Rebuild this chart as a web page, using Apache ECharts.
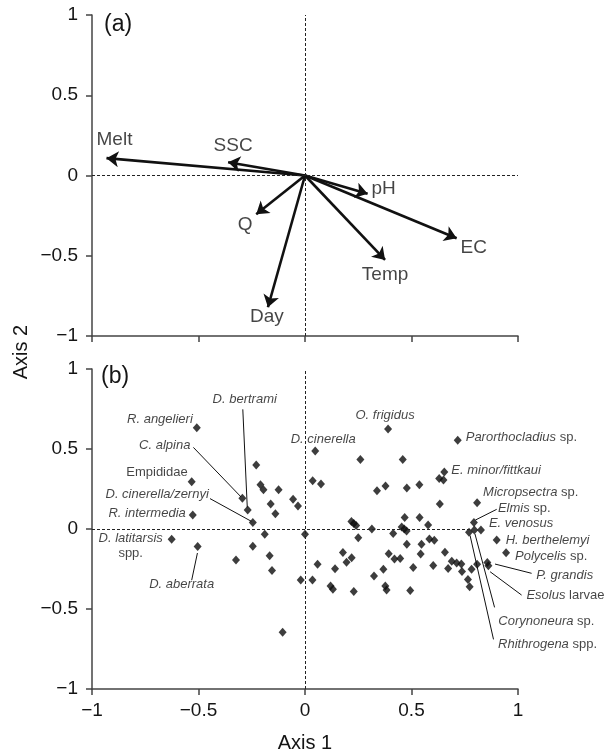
<!DOCTYPE html>
<html>
<head>
<meta charset="utf-8">
<script src="https://cdn.jsdelivr.net/npm/echarts@6/dist/echarts.min.js"></script>
<style>
  html, body { margin: 0; padding: 0; background: #fff; }
  #chart { width: 613px; height: 754px; }
</style>
</head>
<body>
<div id="chart"></div>
<script>
// panel (a): environmental vectors (arrow tips)
const vectorNames = ["Melt", "SSC", "pH", "EC", "Temp", "Q", "Day"];
const vectorX = [-0.932, -0.361, 0.294, 0.712, 0.376, -0.229, -0.174];
const vectorY = [0.108, 0.083, -0.114, -0.391, -0.526, -0.241, -0.821];

// panel (b): labelled taxa
const taxaItalic = ["R. angelieri", "C. alpina", "D. bertrami", "", "D. cinerella/zernyi",
  "R. intermedia", "D. latitarsis", "D. aberrata", "D. cinerella", "O. frigidus",
  "Parorthocladius", "E. minor/fittkaui", "Micropsectra", "Elmis", "E. venosus",
  "H. berthelemyi", "Polycelis", "P. grandis", "Esolus", "Corynoneura", "Rhithrogena"];
const taxaPlain = ["", "", "", "Empididae", "", "", "\nspp.", "", "", "", " sp.", "", " sp.",
  " sp.", "", "", " sp.", "", " larvae", " sp.", " spp."];
const taxaX = [-0.508, -0.294, -0.269, -0.532, -0.245, -0.527, -0.626, -0.504, 0.048, 0.39,
  0.717, 0.654, 0.808, 0.793, 0.826, 0.9, 0.944, 0.856, 0.861, 0.795, 0.77];
const taxaY = [0.633, 0.192, 0.119, 0.296, 0.04, 0.088, -0.064, -0.11, 0.488, 0.625,
  0.555, 0.356, 0.164, 0.041, -0.007, -0.069, -0.148, -0.21, -0.23, -0.006, -0.021];

// leader lines from taxa to their labels
const leaders = [
  [[-0.524, 0.51], [-0.30, 0.20]],
  [[-0.292, 0.748], [-0.271, 0.135]],
  [[-0.446, 0.19], [-0.252, 0.048]],
  [[-0.505, -0.15], [-0.532, -0.32]],
  [[0.80, 0.056], [0.90, 0.123]],
  [[0.892, -0.219], [1.064, -0.277]],
  [[0.869, -0.267], [1.017, -0.413]],
  [[0.798, -0.031], [0.89, -0.49]],
  [[0.775, -0.04], [0.885, -0.69]]
];

// panel (b): other samples
const otherSites = [
  [-0.229, 0.400], [-0.209, 0.277], [-0.195, 0.245], [-0.124, 0.245], [-0.056, 0.186],
  [-0.033, 0.144], [-0.161, 0.156], [-0.139, 0.096], [-0.189, -0.033], [0.000, -0.033],
  [-0.245, -0.108], [-0.166, -0.167], [-0.324, -0.194], [-0.155, -0.259], [-0.020, -0.319],
  [0.035, -0.319], [0.059, -0.220], [0.141, -0.248], [0.120, -0.356], [0.131, -0.376],
  [0.229, -0.391], [-0.105, -0.645],
  [0.036, 0.302], [0.075, 0.281], [0.260, 0.435], [0.459, 0.435], [0.630, 0.316],
  [0.650, 0.306], [0.338, 0.239], [0.378, 0.269], [0.478, 0.256], [0.537, 0.276],
  [0.633, 0.157], [0.218, 0.047], [0.229, 0.035], [0.240, 0.022], [0.314, 0.000],
  [0.250, -0.054], [0.414, -0.028], [0.454, 0.012], [0.466, 0.000], [0.477, -0.012],
  [0.578, 0.025], [0.468, 0.072], [0.538, 0.072], [0.478, -0.095], [0.547, -0.095],
  [0.584, -0.062], [0.607, -0.070], [0.178, -0.147], [0.219, -0.180], [0.195, -0.208],
  [0.393, -0.154], [0.420, -0.187], [0.447, -0.184], [0.543, -0.157], [0.657, -0.146],
  [0.368, -0.252], [0.324, -0.293], [0.377, -0.356], [0.383, -0.382], [0.494, -0.385],
  [0.508, -0.240], [0.602, -0.228],
  [0.689, -0.202], [0.712, -0.212], [0.734, -0.219], [0.672, -0.247], [0.737, -0.265],
  [0.765, -0.315], [0.773, -0.361], [0.782, -0.251], [0.808, -0.221]
];

// label placement (pixels, relative to the point)
const vectorLabelOffset = [[8, -18], [5, -16], [16, -5], [17, 10], [0, 15], [-11, 11], [-1, 9]];
const taxaLabelAlign = ["right", "right", "center", "right", "right", "right", "center", "center",
  "center", "center", "left", "left", "left", "left", "left", "left", "left", "left", "left",
  "left", "left"];
const taxaLabelOffset = [[-4, -8], [-52, -53], [-3, -111], [-4, -9], [-44, -28], [-7, -2],
  [-41, 7], [-16, 38], [8, -12], [-3, -14], [8, -3], [7, -2], [6, -10], [24, -14], [8, -7],
  [9, 0], [9, 4], [49, 13], [38, 30], [24, 91], [29, 112]];

const FONT = "'Liberation Sans', Arial, Helvetica, sans-serif";
const INK = "#151515";
const AXIS = "#444";

function fmtTick(v) {
  return v < 0 ? "\u2212" + Math.abs(v) : String(v);
}

function xAxisFor(gridIndex, showLabels) {
  return {
    type: "value", gridIndex, min: -1, max: 1, interval: 0.5,
    axisLine: { onZero: false, lineStyle: { color: AXIS, width: 1.5 } },
    axisTick: { show: true, length: 6, lineStyle: { color: AXIS, width: 1.5 } },
    axisLabel: { show: showLabels, formatter: fmtTick, color: INK, fontSize: 19,
      fontFamily: FONT, margin: 12 },
    splitLine: { show: false },
    name: showLabels ? "Axis 1" : "",
    nameLocation: "middle", nameGap: 44,
    nameTextStyle: { color: INK, fontSize: 20, fontFamily: FONT }
  };
}

function yAxisFor(gridIndex) {
  return {
    type: "value", gridIndex, min: -1, max: 1, interval: 0.5,
    axisLine: { onZero: false, lineStyle: { color: AXIS, width: 1.5 } },
    axisTick: { show: true, length: 6, lineStyle: { color: AXIS, width: 1.5 } },
    axisLabel: { formatter: fmtTick, color: INK, fontSize: 19, fontFamily: FONT, margin: 14 },
    splitLine: { show: false }
  };
}

const dashed = { type: [3, 2], width: 1, color: "#222" };

const chart = echarts.init(document.getElementById("chart"));
chart.setOption({
  animation: false,
  title: [
    { text: "(a)", left: 104, top: 13, padding: 0,
      textStyle: { fontSize: 23, fontWeight: "normal", color: INK, fontFamily: FONT } },
    { text: "(b)", left: 101, top: 365, padding: 0,
      textStyle: { fontSize: 23, fontWeight: "normal", color: INK, fontFamily: FONT } }
  ],
  graphic: [{
    type: "text", x: 21, y: 352, rotation: Math.PI / 2,
    style: { text: "Axis 2", fill: INK, font: "20px " + FONT, textAlign: "center",
      textVerticalAlign: "middle" }
  }],
  grid: [
    { left: 92, top: 15, width: 426, height: 321 },
    { left: 92, top: 369, width: 426, height: 320 }
  ],
  xAxis: [xAxisFor(0, false), xAxisFor(1, true)],
  yAxis: [yAxisFor(0), yAxisFor(1)],
  series: [
    {
      type: "lines", coordinateSystem: "cartesian2d", xAxisIndex: 0, yAxisIndex: 0,
      silent: true, z: 3,
      symbol: ["none", "arrow"], symbolSize: 12,
      lineStyle: { color: "#111", width: 2.6, opacity: 1 },
      data: vectorNames.map((n, i) => ({ coords: [[0, 0], [vectorX[i], vectorY[i]]] })),
      markLine: {
        silent: true, symbol: "none", label: { show: false }, lineStyle: dashed,
        data: [{ xAxis: 0 }, { yAxis: 0 }]
      }
    },
    {
      type: "scatter", xAxisIndex: 0, yAxisIndex: 0, symbolSize: 1, silent: true,
      itemStyle: { color: "rgba(0,0,0,0)" },
      data: vectorNames.map((n, i) => ({
        name: n, value: [vectorX[i], vectorY[i]],
        label: {
          show: true, position: "inside", offset: vectorLabelOffset[i],
          formatter: n, color: INK, fontSize: 19, fontFamily: FONT
        }
      }))
    },
    {
      type: "lines", coordinateSystem: "cartesian2d", xAxisIndex: 1, yAxisIndex: 1,
      silent: true, clip: false,
      lineStyle: { color: "#111", width: 1, opacity: 1 },
      data: leaders.map(c => ({ coords: c }))
    },
    {
      type: "scatter", xAxisIndex: 1, yAxisIndex: 1, silent: true,
      symbol: "diamond", symbolSize: [8, 9], itemStyle: { color: "#0d0d0d" },
      data: otherSites,
      markLine: {
        silent: true, symbol: "none", label: { show: false }, lineStyle: dashed,
        data: [{ xAxis: 0 }, [{ coord: [-1, 0] }, { coord: [0.78, 0] }]]
      }
    },
    {
      type: "scatter", xAxisIndex: 1, yAxisIndex: 1, silent: true,
      symbol: "diamond", symbolSize: [8, 9], itemStyle: { color: "#0d0d0d" },
      data: taxaX.map((x, i) => {
        let txt = "";
        if (taxaItalic[i]) txt += "{i|" + taxaItalic[i] + "}";
        if (taxaPlain[i]) {
          const parts = taxaPlain[i].split("\n");
          txt += parts.map(p => (p ? "{n|" + p + "}" : "")).join("\n");
        }
        return {
          value: [x, taxaY[i]],
          label: {
            show: true, position: "inside", align: taxaLabelAlign[i],
            verticalAlign: "middle", offset: taxaLabelOffset[i], formatter: txt,
            color: INK, lineHeight: 15,
            rich: {
              i: { fontStyle: "italic", fontSize: 13, color: INK, fontFamily: FONT, lineHeight: 15 },
              n: { fontSize: 13, color: INK, fontFamily: FONT, lineHeight: 15 }
            }
          }
        };
      })
    }
  ]
});
</script>
</body>
</html>
